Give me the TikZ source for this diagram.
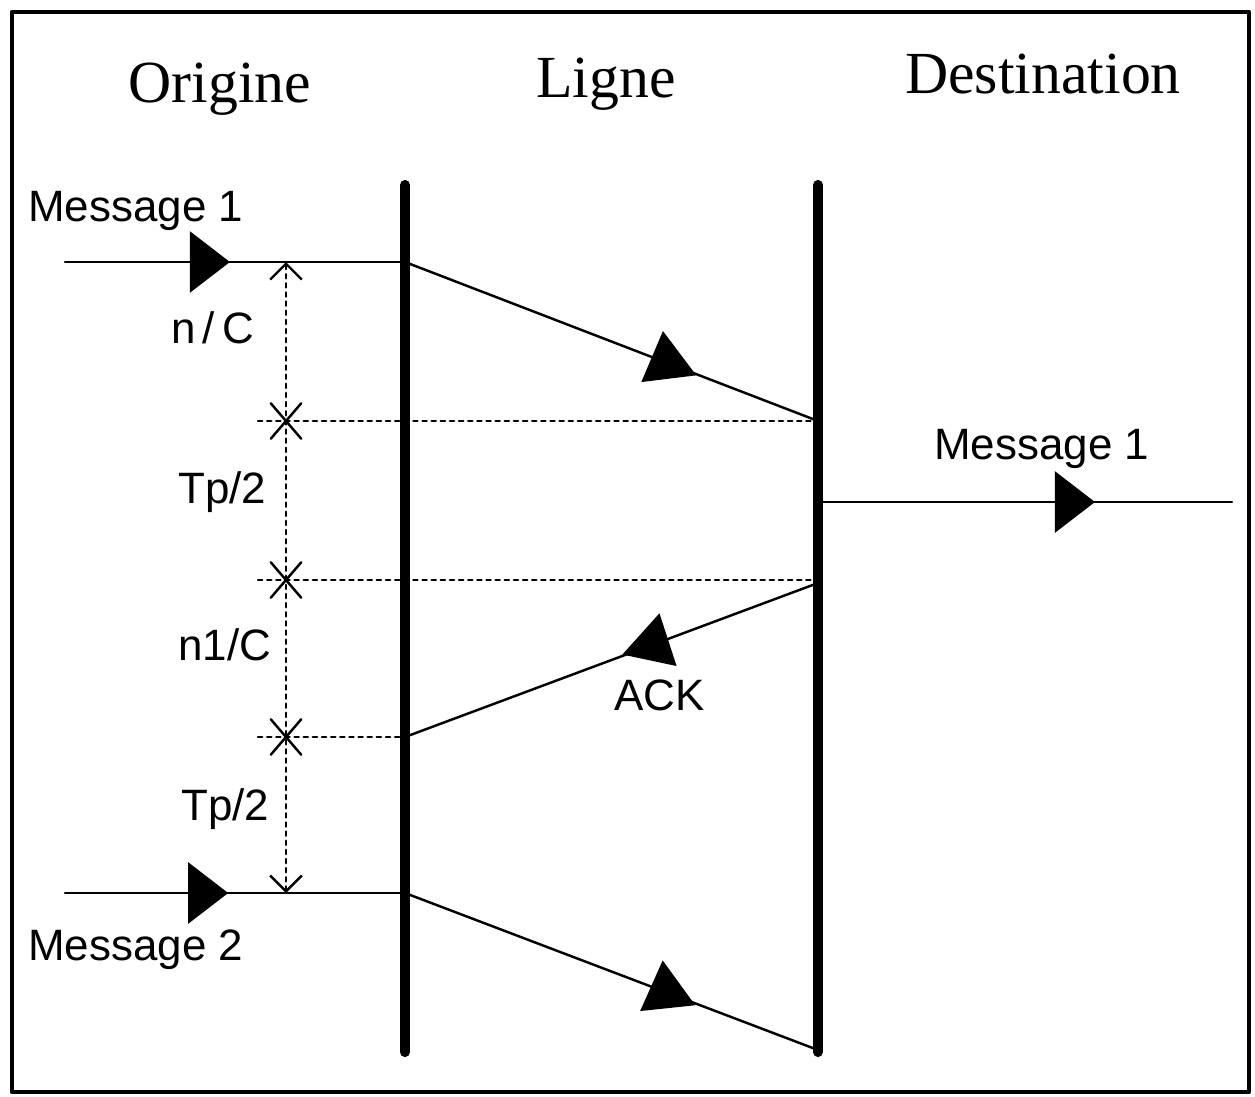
\documentclass[tikz,border=0pt]{standalone}
\usepackage{fontspec}
\setmainfont{Liberation Serif}
\setsansfont{Liberation Sans}
\usetikzlibrary{arrows.meta,shapes.geometric,shapes.misc,decorations.markings}

\begin{document}
\begin{tikzpicture}[line width=0.7pt, line cap=round, line join=round, >={Straight Barb[length=4.5pt,width=9pt]},
  head/.style={font=\fontsize{17}{20}\selectfont, anchor=base, inner sep=0},
  lbl/.style={font=\sffamily\fontsize{12.5}{15}\selectfont, anchor=base west, inner sep=0},
  ligne/.style={line width=2.9pt},
  dots/.style={dash pattern=on 1.2pt off 1.4pt},
  xmark/.style={cross out, draw, line width=0.7pt, minimum width=0.28cm, minimum height=0.33cm, inner sep=0},
  tri/.style={regular polygon, regular polygon sides=3, fill=black, inner sep=0, minimum size=0.64cm},
  midtip/.style={postaction={decorate}, decoration={markings, mark=at position #1 with {\arrow{Triangle[length=0.40cm,width=0.61cm]}}}}]
\useasboundingbox (0,0) rectangle (12.55,-10.96);
\draw [line width=1.3pt] (0.12,-0.12) rectangle (12.49,-10.92);

% titres
\node [head] (orig) at (2.20,-1.02) {Origine};
\node [head] (lign) at (6.06,-0.97) {Ligne};
\node [head] (dest) at (10.43,-0.93) {Destination};

% les deux extremites de la ligne
\coordinate (lt) at (4.05,-1.85);
\coordinate (lb) at (4.05,-10.52);
\coordinate (rt) at (8.18,-1.85);
\coordinate (rb) at (8.18,-10.52);
\draw [ligne] (lt) -- (lb);
\draw [ligne] (rt) -- (rb);

% evenements
\coordinate (m1s) at (0.65,-2.62);
\coordinate (a1) at (4.05,-2.62);
\coordinate (b1) at (8.18,-4.21);
\coordinate (d1s) at (8.18,-5.02);
\coordinate (d1e) at (12.32,-5.02);
\coordinate (b2) at (8.18,-5.83);
\coordinate (a2) at (4.05,-7.37);
\coordinate (m2s) at (0.65,-8.93);
\coordinate (a3) at (4.05,-8.93);
\coordinate (b3) at (8.18,-10.50);

\draw [midtip=0.485] (m1s) -- (a1);
\draw (a1) -- node [tri, pos=0.634, rotate=7] (h1) {} (b1);
\draw [midtip=0.669] (d1s) -- (d1e);
\draw (b2) -- node [tri, pos=0.40, rotate=-12] (hack) {} (a2);
\draw [midtip=0.48] (m2s) -- (a3);
\draw (a3) -- node [tri, pos=0.632, rotate=6] (h2) {} (b3);

% reperes de temps
\coordinate (dtop) at (2.86,-2.62);
\coordinate (dbot) at (2.86,-8.93);
\node [xmark] (x1) at (2.86,-4.21) {};
\node [xmark] (x2) at (2.86,-5.80) {};
\node [xmark] (x3) at (2.86,-7.37) {};
\coordinate (y1) at (2.58,-4.21);
\coordinate (y2) at (2.58,-5.80);
\coordinate (y3) at (2.58,-7.37);
\coordinate (z2) at (8.18,-5.80);
\draw [dots, <->] (dtop) -- (dbot);
\draw [dots] (y1) -- (b1);
\draw [dots] (y2) -- (z2);
\draw [dots] (y3) -- (a2);

% textes
\node [lbl] (msg1) at (0.27,-2.21) {Message 1};
\node [lbl] (msg2) at (0.27,-9.60) {Message 2};
\node [lbl] (msg1d) at (9.33,-4.59) {Message 1};
\node [lbl] (nc) at (1.70,-3.43) {n\,/\,C};
\node [lbl] (tp1) at (1.77,-5.03) {Tp/2};
\node [lbl] (n1c) at (1.77,-6.60) {n1/C};
\node [lbl] (tp2) at (1.80,-8.20) {Tp/2};
\node [lbl] (ack) at (6.13,-7.10) {ACK};
\end{tikzpicture}
\end{document}
